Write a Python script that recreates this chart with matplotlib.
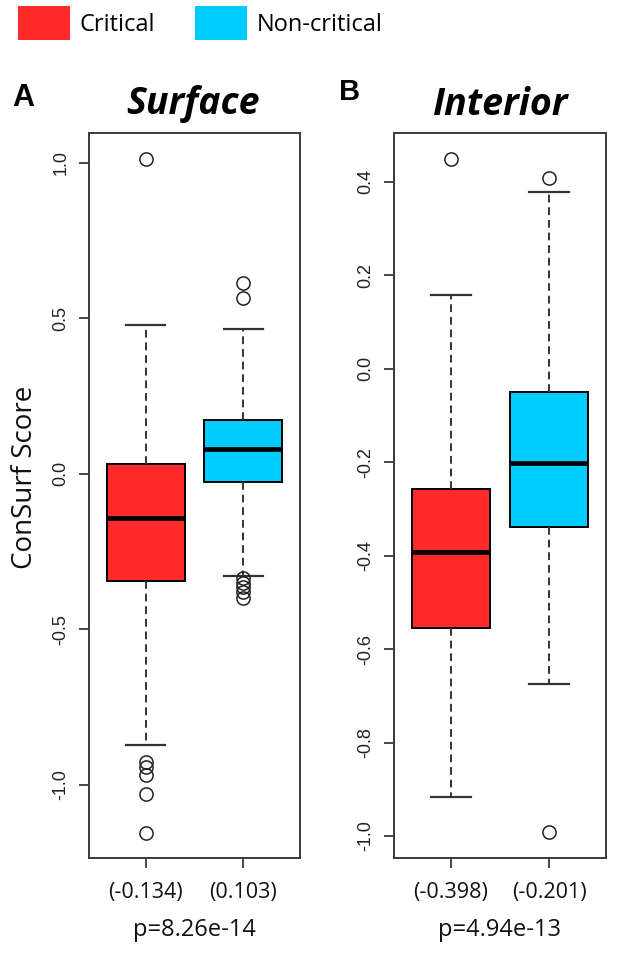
import matplotlib
matplotlib.use("Agg")
import matplotlib.pyplot as plt
from matplotlib.patches import Patch

# colours of the two groups
group_names = ["Critical", "Non-critical"]
group_colors = ["#ff2a2a", "#00ccff"]

# Surface panel: box statistics
surface_q1 = [-0.344, -0.026]
surface_med = [-0.142, 0.079]
surface_q3 = [0.031, 0.173]
surface_whislo = [-0.871, -0.328]
surface_whishi = [0.480, 0.467]
surface_fliers = [[1.013, -0.926, -0.941, -0.968, -1.028, -1.154],
                  [0.615, 0.567, -0.335, -0.350, -0.365, -0.380, -0.400]]
surface_labels = ["(-0.134)", "(0.103)"]
surface_p = "p=8.26e-14"

# Interior panel
interior_q1 = [-0.554, -0.338]
interior_med = [-0.393, -0.203]
interior_q3 = [-0.257, -0.051]
interior_whislo = [-0.917, -0.675]
interior_whishi = [0.157, 0.378]
interior_fliers = [[0.448], [0.407, -0.991]]
interior_labels = ["(-0.398)", "(-0.201)"]
interior_p = "p=4.94e-13"

surface_ticks = [-1.0, -0.5, 0.0, 0.5, 1.0]
interior_ticks = [-1.0, -0.8, -0.6, -0.4, -0.2, 0.0, 0.2, 0.4]

label_font = "Open Sans"
tick_font = "Liberation Sans"
frame_color = "#3a3a3a"


def make_stats(q1, med, q3, lo, hi, fliers):
    stats = []
    for i in range(len(q1)):
        stats.append({"q1": q1[i], "med": med[i], "q3": q3[i],
                      "whislo": lo[i], "whishi": hi[i], "fliers": fliers[i]})
    return stats


def draw_panel(ax, stats, ticks, ylim, xlabels, ptext):
    bp = ax.bxp(stats, positions=[1, 2], widths=0.8, patch_artist=True,
                showfliers=True,
                boxprops=dict(edgecolor="black", linewidth=1.4),
                medianprops=dict(color="black", linewidth=3.4, solid_capstyle="butt"),
                whiskerprops=dict(color="#333333", linewidth=1.4, linestyle=(0, (4, 2.5))),
                capprops=dict(color="#333333", linewidth=1.6),
                capwidths=0.4,
                flierprops=dict(marker="o", markerfacecolor="none",
                                markeredgecolor="#222222", markersize=9.5,
                                markeredgewidth=1.1, linestyle="none"))
    for patch, c in zip(bp["boxes"], group_colors):
        patch.set_facecolor(c)

    ax.set_xlim(0.42, 2.58)
    ax.set_ylim(*ylim)
    ax.set_yticks(ticks)
    ax.set_yticklabels(["%.1f" % t for t in ticks], rotation=90, va="center",
                       fontsize=13, family=tick_font, color="#222222")
    ax.set_xticks([1, 2])
    ax.set_xticklabels(xlabels, fontsize=15.5, family=label_font, color="#111111")
    ax.tick_params(axis="y", length=7, width=1.3, color=frame_color, pad=7)
    ax.tick_params(axis="x", length=7, width=1.3, color=frame_color, pad=10)
    for s in ax.spines.values():
        s.set_color(frame_color)
        s.set_linewidth(1.4)
    ax.text(0.5, -0.1, ptext, transform=ax.transAxes, ha="center", va="center",
            fontsize=17, family=label_font, color="#111111")


fig = plt.figure(figsize=(6.17, 9.57), dpi=100)
ax1 = fig.add_axes([89 / 617, 1 - 858 / 957, 211 / 617, 725 / 957])
ax2 = fig.add_axes([394 / 617, 1 - 858 / 957, 212 / 617, 725 / 957])

draw_panel(ax1, make_stats(surface_q1, surface_med, surface_q3, surface_whislo,
                           surface_whishi, surface_fliers),
           surface_ticks, (-1.235, 1.096), surface_labels, surface_p)
draw_panel(ax2, make_stats(interior_q1, interior_med, interior_q3, interior_whislo,
                           interior_whishi, interior_fliers),
           interior_ticks, (-1.047, 0.504), interior_labels, interior_p)

# y label sits a little above the middle of the axes
fig.text(25 / 617, 1 - 477 / 957, "ConSurf Score", rotation=90, ha="center", va="center",
         fontsize=20, family=label_font, color="#111111")

# panel titles and letters
fig.text(193 / 617, 1 - 114 / 957, "Surface", ha="center", va="baseline",
         fontsize=27, family=label_font, weight="bold", style="italic")
fig.text(500 / 617, 1 - 115 / 957, "Interior", ha="center", va="baseline",
         fontsize=27, family=label_font, weight="bold", style="italic")
fig.text(23 / 617, 1 - 106 / 957, "A", ha="center", va="baseline",
         fontsize=22, family=tick_font, weight="bold")
fig.text(350 / 617, 1 - 100 / 957, "B", ha="center", va="baseline",
         fontsize=21, family=tick_font, weight="bold")

# legend on top
handles = [Patch(facecolor=c, edgecolor="none") for c in group_colors]
fig.legend(handles, group_names, loc="upper left", bbox_to_anchor=(18 / 617, 1 - 6 / 957),
           ncol=2, frameon=False, prop={"family": label_font, "size": 17},
           handlelength=2.2, handleheight=1.85, handletextpad=0.4,
           columnspacing=1.7, borderpad=0, borderaxespad=0)

fig.savefig("out.png", dpi=100)
